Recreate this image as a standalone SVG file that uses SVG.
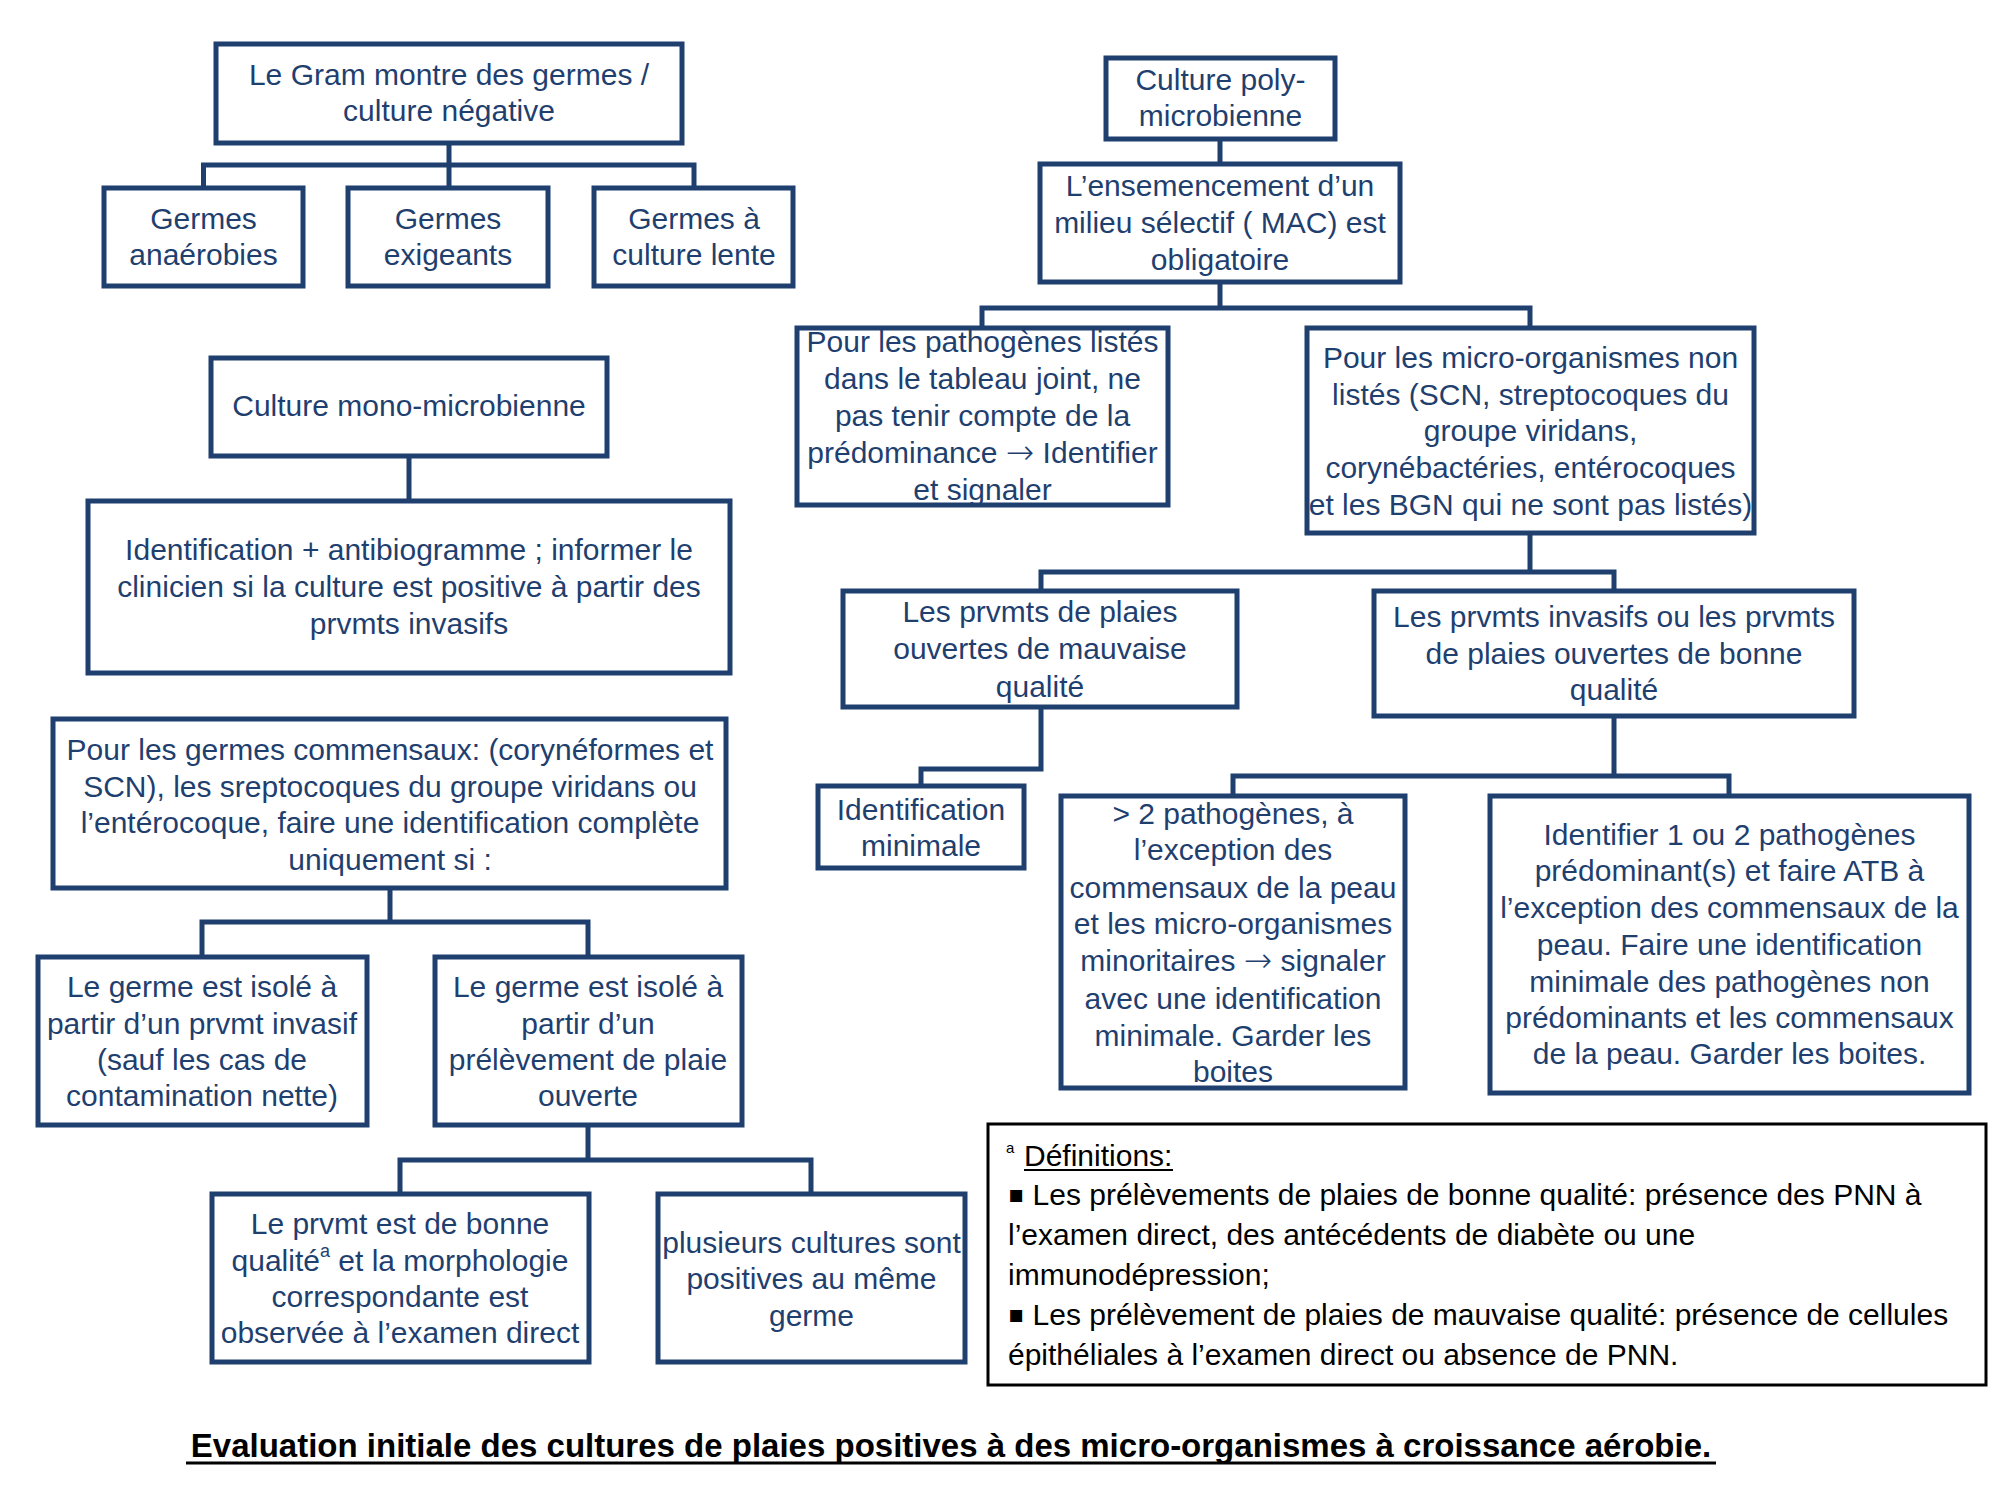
<svg xmlns="http://www.w3.org/2000/svg" width="2000" height="1500" viewBox="0 0 2000 1500">
<style>
.box{fill:#ffffff;stroke:#1F3F6F;stroke-width:5}
.t{font-family:"Liberation Sans",Arial,sans-serif;font-size:30px;fill:#1F3F6F;text-anchor:middle;dominant-baseline:central}
.conn{fill:none;stroke:#1F3F6F;stroke-width:5}
.d{font-family:"Liberation Sans",Arial,sans-serif;font-size:30px;fill:#000000;dominant-baseline:central}
.arr{font-family:"DejaVu Sans",sans-serif;font-size:34px;font-weight:200}
.bul{font-family:"DejaVu Sans",sans-serif;font-size:24px}
.sup{font-size:15px}
</style>
<rect width="2000" height="1500" fill="#ffffff"/>
<g id="connectors">
<path class="conn" d="M449,145 V186 M203.5,186 V165 H694 V186"/>
<path class="conn" d="M409,458 V499"/>
<path class="conn" d="M390,890 V922 M202,955 V922 H588 V955"/>
<path class="conn" d="M588,1127 V1160 M400,1192 V1160 H811 V1192"/>
<path class="conn" d="M1220,140 V162"/>
<path class="conn" d="M1220,284 V308 M982,326 V308 H1530 V326"/>
<path class="conn" d="M1530,535 V572 M1041,589 V572 H1614 V589"/>
<path class="conn" d="M1041,709 V769 H921 V784"/>
<path class="conn" d="M1614,718 V776 M1233,794 V776 H1729 V794"/>
</g>
<g id="gram"><rect class="box" x="216" y="44" width="466" height="99"/>
<text class="t" x="449" y="74">Le Gram montre des germes /</text><text class="t" x="449" y="110">culture négative</text></g>
<g id="anaerobies"><rect class="box" x="104" y="188" width="199" height="98"/>
<text class="t" x="203.5" y="218">Germes</text><text class="t" x="203.5" y="254">anaérobies</text></g>
<g id="exigeants"><rect class="box" x="348" y="188" width="200" height="98"/>
<text class="t" x="448" y="218">Germes</text><text class="t" x="448" y="254">exigeants</text></g>
<g id="lente"><rect class="box" x="594" y="188" width="199" height="98"/>
<text class="t" x="694" y="218">Germes à</text><text class="t" x="694" y="254">culture lente</text></g>
<g id="mono"><rect class="box" x="211" y="358" width="396" height="98"/>
<text class="t" x="409" y="405">Culture mono-microbienne</text></g>
<g id="identification"><rect class="box" x="88" y="501" width="642" height="172"/>
<text class="t" x="409" y="549">Identification + antibiogramme ; informer le</text>
<text class="t" x="409" y="586">clinicien si la culture est positive à partir des</text>
<text class="t" x="409" y="623">prvmts invasifs</text></g>
<g id="commensaux"><rect class="box" x="53" y="719" width="673" height="169"/>
<text class="t" x="390" y="749">Pour les germes commensaux: (corynéformes et</text>
<text class="t" x="390" y="786">SCN), les sreptocoques du groupe viridans ou</text>
<text class="t" x="390" y="822">l’entérocoque, faire une identification complète</text>
<text class="t" x="390" y="859">uniquement si :</text></g>
<g id="invasif"><rect class="box" x="38" y="957" width="329" height="168"/>
<text class="t" x="202" y="986">Le germe est isolé à</text>
<text class="t" x="202" y="1023">partir d’un prvmt invasif</text>
<text class="t" x="202" y="1059">(sauf les cas de</text>
<text class="t" x="202" y="1095">contamination nette)</text></g>
<g id="plaieouverte"><rect class="box" x="435" y="957" width="307" height="168"/>
<text class="t" x="588" y="986">Le germe est isolé à</text>
<text class="t" x="588" y="1023">partir d’un</text>
<text class="t" x="588" y="1059">prélèvement de plaie</text>
<text class="t" x="588" y="1095">ouverte</text></g>
<g id="bonnequalite"><rect class="box" x="212" y="1194" width="377" height="168"/>
<text class="t" x="400" y="1223">Le prvmt est de bonne</text>
<text class="t" x="400" y="1260">qualité<tspan style="font-size:18px" dy="-9">a</tspan><tspan dy="9"> et la morphologie</tspan></text>
<text class="t" x="400" y="1296">correspondante est</text>
<text class="t" x="400" y="1332">observée à l’examen direct</text></g>
<g id="plusieurs"><rect class="box" x="658" y="1194" width="307" height="168"/>
<text class="t" x="811.5" y="1242">plusieurs cultures sont</text>
<text class="t" x="811.5" y="1278">positives au même</text>
<text class="t" x="811.5" y="1315">germe</text></g>
<g id="poly"><rect class="box" x="1106" y="58" width="229" height="81"/>
<text class="t" x="1220.5" y="79">Culture poly-</text><text class="t" x="1220.5" y="115">microbienne</text></g>
<g id="ensemencement"><rect class="box" x="1040" y="164" width="360" height="118"/>
<text class="t" x="1220" y="185">L’ensemencement d’un</text>
<text class="t" x="1220" y="222">milieu sélectif ( MAC) est</text>
<text class="t" x="1220" y="259">obligatoire</text></g>
<g id="listes"><rect class="box" x="797" y="328" width="371" height="177"/>
<text class="t" x="982.5" y="341">Pour les pathogènes listés</text>
<text class="t" x="982.5" y="378">dans le tableau joint, ne</text>
<text class="t" x="982.5" y="415">pas tenir compte de la</text>
<text class="t" x="982.5" y="452">prédominance <tspan class="arr">→</tspan> Identifier</text>
<text class="t" x="982.5" y="489">et signaler</text></g>
<g id="nonlistes"><rect class="box" x="1307" y="328" width="447" height="205"/>
<text class="t" x="1530.5" y="357">Pour les micro-organismes non</text>
<text class="t" x="1530.5" y="394">listés (SCN, streptocoques du</text>
<text class="t" x="1530.5" y="430">groupe viridans,</text>
<text class="t" x="1530.5" y="467">corynébactéries,  entérocoques</text>
<text class="t" x="1530.5" y="504">et les BGN qui ne sont pas listés)</text></g>
<g id="mauvaise"><rect class="box" x="843" y="591" width="394" height="116"/>
<text class="t" x="1040" y="611">Les prvmts de plaies</text>
<text class="t" x="1040" y="648">ouvertes de mauvaise</text>
<text class="t" x="1040" y="686">qualité</text></g>
<g id="invasifs"><rect class="box" x="1374" y="591" width="480" height="125"/>
<text class="t" x="1614" y="616">Les prvmts invasifs ou les prvmts</text>
<text class="t" x="1614" y="653">de plaies ouvertes de bonne</text>
<text class="t" x="1614" y="689">qualité</text></g>
<g id="identmin"><rect class="box" x="818" y="786" width="206" height="82"/>
<text class="t" x="921" y="809">Identification</text>
<text class="t" x="921" y="845">minimale</text></g>
<g id="plus2"><rect class="box" x="1061" y="796" width="344" height="292"/>
<text class="t" x="1233" y="813">&gt; 2 pathogènes, à</text>
<text class="t" x="1233" y="849">l’exception des</text>
<text class="t" x="1233" y="887">commensaux de la peau</text>
<text class="t" x="1233" y="923">et les micro-organismes</text>
<text class="t" x="1233" y="960">minoritaires <tspan class="arr">→</tspan> signaler</text>
<text class="t" x="1233" y="998">avec une identification</text>
<text class="t" x="1233" y="1035">minimale. Garder les</text>
<text class="t" x="1233" y="1071">boites</text></g>
<g id="identifier"><rect class="box" x="1490" y="796" width="479" height="297"/>
<text class="t" x="1729.5" y="834">Identifier 1 ou 2 pathogènes</text>
<text class="t" x="1729.5" y="870">prédominant(s) et faire ATB à</text>
<text class="t" x="1729.5" y="907">l’exception des commensaux de la</text>
<text class="t" x="1729.5" y="944">peau. Faire une identification</text>
<text class="t" x="1729.5" y="981">minimale des pathogènes non</text>
<text class="t" x="1729.5" y="1017">prédominants et les commensaux</text>
<text class="t" x="1729.5" y="1053">de la peau. Garder les boites.</text></g>
<g id="definitions"><rect x="988" y="1124" width="998" height="261" fill="#ffffff" stroke="#000000" stroke-width="3"/>
<text class="d sup" x="1006" y="1147">a</text>
<text class="d" x="1024" y="1155">Définitions:</text>
<line x1="1024" y1="1170" x2="1173" y2="1170" stroke="#000000" stroke-width="2"/>
<text class="d" x="1008" y="1194"><tspan class="bul">▪</tspan> Les prélèvements de plaies de bonne qualité: présence des PNN à</text>
<text class="d" x="1008" y="1234">l’examen direct, des antécédents de diabète ou une</text>
<text class="d" x="1008" y="1274">immunodépression;</text>
<text class="d" x="1008" y="1314"><tspan class="bul">▪</tspan> Les prélèvement de plaies de mauvaise qualité: présence de cellules</text>
<text class="d" x="1008" y="1354">épithéliales à l’examen direct ou absence de PNN.</text></g>
<g id="title">
<text x="951" y="1445" font-family="'Liberation Sans',Arial,sans-serif" font-size="33" font-weight="bold" fill="#000000" text-anchor="middle" dominant-baseline="central">Evaluation initiale des cultures de plaies positives à des micro-organismes à croissance aérobie.</text>
<line x1="186" y1="1463" x2="1716" y2="1463" stroke="#000000" stroke-width="3"/>
</g>
</svg>
